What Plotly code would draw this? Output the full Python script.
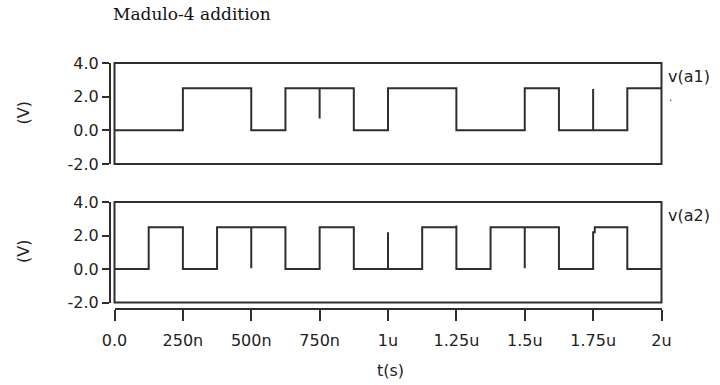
import plotly.graph_objects as go

# ---------------- data ----------------
title_text = "Madulo-4 addition"
series_names = ["v(a1)", "v(a2)"]

# piecewise waveform points (time in ns, voltage in V)
a1_time_ns = [0, 250, 250, 500, 500, 625, 625, 750, 750, 750, 875, 875, 1000, 1000,
              1250, 1250, 1500, 1500, 1625, 1625, 1750, 1750, 1750, 1875, 1875, 2000]
a1_volts = [0, 0, 2.5, 2.5, 0, 0, 2.5, 2.5, 0.7, 2.5, 2.5, 0, 0, 2.5,
            2.5, 0, 0, 2.5, 2.5, 0, 0, 2.45, 0, 0, 2.5, 2.5]

a2_time_ns = [0, 125, 125, 250, 250, 375, 375, 500, 500, 500, 625, 625, 750, 750,
              875, 875, 1000, 1000, 1000, 1125, 1125, 1250, 1250, 1250, 1375, 1375,
              1500, 1500, 1500, 1625, 1625, 1750, 1750, 1756, 1756, 1875, 1875, 2000]
a2_volts = [0, 0, 2.5, 2.5, 0, 0, 2.5, 2.5, 0.05, 2.5, 2.5, 0, 0, 2.5,
            2.5, 0, 0, 2.2, 0, 0, 2.5, 2.5, 2.6, 0, 0, 2.5,
            2.5, 0.05, 2.5, 2.5, 0, 0, 2.2, 2.2, 2.5, 2.5, 0, 0]

x_tick_vals_ns = [0, 250, 500, 750, 1000, 1250, 1500, 1750, 2000]
x_tick_text = ["0.0", "250n", "500n", "750n", "1u", "1.25u", "1.5u", "1.75u", "2u"]
y_tick_vals = [-2, 0, 2, 4]
y_tick_text = ["-2.0", "0.0", "2.0", "4.0"]
y_label = "(V)"
x_label = "t(s)"

# ---------------- layout helpers ----------------
W, H = 720, 385
def px(x):
    return x / W
def py(y):
    return 1 - y / H

LINE = "#2e2e2e"
FONT = "DejaVu Sans"
x_dom = [px(114.5), px(661.5)]
top_dom = [py(164), py(63)]
bot_dom = [py(302.5), py(202)]

to_s = lambda lst: [v * 1e-9 for v in lst]

fig = go.Figure()
fig.add_trace(go.Scatter(x=to_s(a1_time_ns), y=a1_volts, mode="lines",
                         line=dict(color=LINE, width=2), xaxis="x", yaxis="y",
                         name=series_names[0], showlegend=False))
fig.add_trace(go.Scatter(x=to_s(a2_time_ns), y=a2_volts, mode="lines",
                         line=dict(color=LINE, width=2), xaxis="x2", yaxis="y2",
                         name=series_names[1], showlegend=False))

yax = dict(range=[-2, 4], tickvals=y_tick_vals, ticktext=y_tick_text,
           ticks="outside", ticklen=7, tickwidth=2, tickcolor=LINE,
           showline=True, linewidth=2, linecolor=LINE, showgrid=False,
           zeroline=False, anchor="free", position=px(110), automargin=False,
           tickfont=dict(family=FONT, size=16, color="#222"))
xr = [0, 2e-6]

fig.update_layout(
    width=W, height=H, margin=dict(l=0, r=0, t=0, b=0, autoexpand=False),
    plot_bgcolor="white", paper_bgcolor="white",
    xaxis=dict(domain=x_dom, range=xr, visible=False, anchor="y", automargin=False),
    yaxis=dict(domain=top_dom, **yax),
    xaxis2=dict(domain=x_dom, range=xr, tickvals=to_s(x_tick_vals_ns), ticktext=x_tick_text,
                ticks="outside", ticklen=11, tickwidth=2, tickcolor=LINE,
                showline=True, linewidth=2, linecolor=LINE, showgrid=False, zeroline=False,
                anchor="free", position=py(309), automargin=False, ticklabelstandoff=6,
                tickfont=dict(family=FONT, size=16, color="#222")),
    yaxis2=dict(domain=bot_dom, **yax),
)

# plot frames
for xa, ya in (("x", "y"), ("x2", "y2")):
    fig.add_shape(type="rect", xref=f"{xa} domain", yref=f"{ya} domain",
                  x0=0, x1=1, y0=0, y1=1, line=dict(color=LINE, width=2))

ann = []
ann.append(dict(text=title_text, x=px(111), y=py(14), xanchor="left", yanchor="middle",
                font=dict(family="DejaVu Serif", size=17, color="#111")))
ann.append(dict(text=series_names[0], x=px(666), y=py(77), xanchor="left", yanchor="middle",
                font=dict(family=FONT, size=16, color="#222")))
ann.append(dict(text=".", x=px(670), y=py(98), xanchor="center", yanchor="middle",
                font=dict(family=FONT, size=10, color="#222")))
ann.append(dict(text=series_names[1], x=px(666), y=py(215), xanchor="left", yanchor="middle",
                font=dict(family=FONT, size=16, color="#222")))
for yc in (113.5, 252):
    ann.append(dict(text=y_label, x=px(23), y=py(yc), xanchor="center", yanchor="middle",
                    textangle=-90, font=dict(family=FONT, size=16, color="#222")))
ann.append(dict(text=x_label, x=px(391), y=py(370), xanchor="center", yanchor="middle",
                font=dict(family=FONT, size=16, color="#222")))
for a in ann:
    a.update(xref="paper", yref="paper", showarrow=False)
fig.update_layout(annotations=ann)

fig.write_html("out.html", config={"displayModeBar": False},
               post_script="document.body.style.margin='0px';")
